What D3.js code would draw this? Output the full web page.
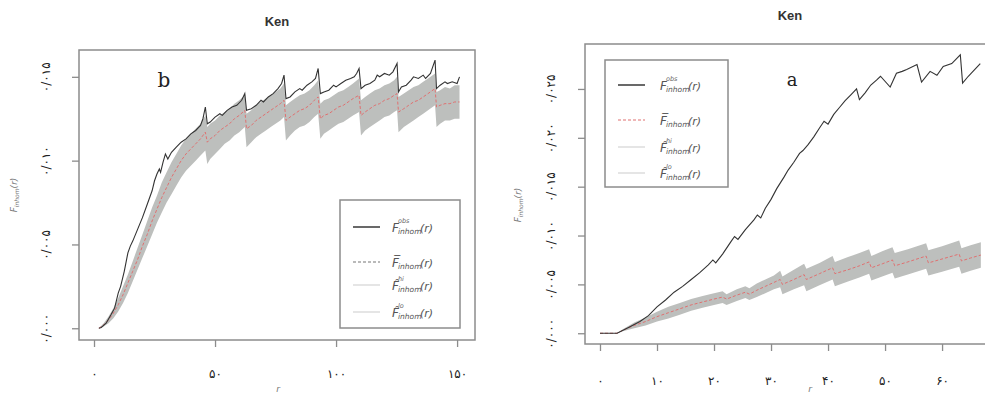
<!DOCTYPE html>
<html>
<head>
<meta charset="utf-8">
<script src="https://cdn.jsdelivr.net/npm/d3@7"></script>
<style>
body { margin: 0; background: #fff; }
svg { display: block; font-family: "DejaVu Sans", sans-serif; }
</style>
</head>
<body>
<script>
// ---- data ----

// panel b : observed curve [r, F]
var leftObs = [[2,0],[3,0.00005],[5,0.0003],[7,0.0008],[8.5,0.0012],[10,0.0021],[11,0.0025],[12.5,0.0034],[14,0.0045],[15,0.0049],
  [16,0.0052],[18,0.0059],[20,0.0066],[22,0.0074],[24,0.0082],[25,0.0088],[26,0.0092],[27,0.0095],[27.5,0.0093],[28.5,0.0099],
  [29.5,0.0104],[30.5,0.0101],[32,0.0105],[34,0.0108],[36,0.0111],[38,0.0113],[40,0.0116],[42,0.0118],[44,0.0121],[45,0.0125],
  [46,0.0132],[46.8,0.0122],[48,0.0123],[50,0.0126],[52,0.0128],[53,0.0127],[55,0.0130],[57,0.0132],[59,0.0133],[61,0.0136],
  [62.3,0.0140],[63,0.0130],[65,0.0131],[67,0.0133],[69,0.0136],[70,0.0135],[72,0.0138],[74,0.0140],[76,0.0143],[77.5,0.0146],
  [78.5,0.0151],[79.3,0.0137],[81,0.0138],[83,0.0141],[85,0.0143],[86,0.0142],[88,0.0145],[90,0.0147],[91.5,0.0149],[92.6,0.0155],
  [93.5,0.0140],[95,0.0141],[97,0.0142],[99,0.0145],[100,0.0144],[102,0.0146],[104,0.0148],[106,0.0149],[107.5,0.0150],[108.5,0.0152],
  [109.5,0.0155],[110.3,0.0143],[112,0.0145],[114,0.0146],[116,0.0148],[117,0.0151],[118,0.0150],[120,0.0152],[122,0.0151],[123.5,0.0153],
  [125.2,0.0158],[125.8,0.0141],[127,0.0144],[129,0.0145],[131,0.0148],[132,0.0150],[134,0.0149],[136,0.0151],[137,0.0149],[139,0.0152],
  [140.9,0.0160],[141.5,0.0143],[143,0.0145],[145,0.0147],[146,0.0146],[148,0.0147],[150,0.0146],[151,0.0150]];

// panel b : simulation envelope [r, mean, lo, hi]
var leftEnv = [[2,0,0,0],[4,0.0002,0.0001,0.0003],[6,0.0005,0.0003,0.0007],[8,0.0009,0.0006,0.0012],[10,0.0014,0.0010,0.0018],
  [12,0.0020,0.0015,0.0025],[14,0.0027,0.0021,0.0032],[16,0.0034,0.0028,0.0040],[18,0.0041,0.0035,0.0048],[20,0.0049,0.0042,0.0056],
  [22,0.0056,0.0049,0.0064],[24,0.0064,0.0056,0.0072],[26,0.0071,0.0063,0.0079],[28,0.0078,0.0069,0.0087],[30,0.0084,0.0075,0.0093],
  [32,0.0090,0.0080,0.0099],[34,0.0095,0.0085,0.0104],[36,0.0100,0.0090,0.0109],[38,0.0104,0.0094,0.0113],[40,0.0107,0.0097,0.0116],
  [42,0.0110,0.0100,0.0119],[44,0.0113,0.0103,0.0122],[46,0.0117,0.0106,0.0127],[46.8,0.0111,0.0098,0.0120],[48,0.0113,0.0101,0.0122],
  [50,0.0115,0.0104,0.0124],[52,0.0118,0.0107,0.0127],[54,0.0120,0.0110,0.0129],[56,0.0122,0.0112,0.0131],[58,0.0125,0.0115,0.0134],
  [60,0.0127,0.0117,0.0136],[62.3,0.0130,0.0120,0.0139],[63,0.0119,0.0108,0.0128],[65,0.0121,0.0111,0.0130],[67,0.0124,0.0114,0.0133],
  [69,0.0126,0.0116,0.0135],[71,0.0128,0.0118,0.0137],[73,0.0130,0.0120,0.0139],[75,0.0132,0.0122,0.0141],[77,0.0134,0.0124,0.0143],
  [78.5,0.0136,0.0126,0.0146],[79.3,0.0124,0.0112,0.0133],[81,0.0126,0.0115,0.0135],[83,0.0128,0.0118,0.0137],[85,0.0130,0.0120,0.0139],
  [87,0.0131,0.0121,0.0140],[89,0.0133,0.0123,0.0142],[91,0.0136,0.0126,0.0145],[92.6,0.0138,0.0128,0.0148],[93.5,0.0125,0.0113,0.0134],
  [95,0.0127,0.0116,0.0136],[97,0.0128,0.0118,0.0137],[99,0.0130,0.0120,0.0139],[101,0.0132,0.0122,0.0141],[103,0.0133,0.0123,0.0142],
  [105,0.0135,0.0125,0.0144],[107,0.0137,0.0127,0.0146],[109.5,0.0139,0.0129,0.0149],[110.3,0.0127,0.0115,0.0136],[112,0.0129,0.0118,0.0138],
  [114,0.0131,0.0120,0.0140],[116,0.0133,0.0122,0.0142],[118,0.0134,0.0124,0.0143],[120,0.0136,0.0126,0.0145],[122,0.0137,0.0127,0.0146],
  [124,0.0139,0.0129,0.0148],[125.2,0.0140,0.0130,0.0150],[125.8,0.0129,0.0117,0.0138],[128,0.0131,0.0120,0.0140],[130,0.0133,0.0122,0.0142],
  [132,0.0135,0.0124,0.0144],[134,0.0136,0.0126,0.0145],[136,0.0138,0.0128,0.0147],[138,0.0140,0.0130,0.0149],[140.9,0.0143,0.0133,0.0152],
  [141.5,0.0132,0.0120,0.0141],[143,0.0133,0.0122,0.0142],[145,0.0134,0.0124,0.0144],[147,0.0134,0.0124,0.0143],[149,0.0135,0.0125,0.0145],
  [151,0.0135,0.0125,0.0145]];

// panel a : observed curve [r, F]
var rightObs = [[0,0],[3,0],[5,0.0006],[7,0.0012],[8.5,0.0018],[10,0.0027],[11.5,0.0034],[13,0.0042],[14.5,0.0048],[16,0.0055],
  [17.5,0.0062],[19,0.0070],[19.8,0.0075],[20.3,0.0072],[21.5,0.0081],[23,0.0094],[23.6,0.0099],[24.2,0.0096],[25.5,0.0106],[27,0.0116],
  [27.6,0.0121],[28.2,0.0118],[29,0.0128],[30,0.0137],[31,0.0148],[32.3,0.0160],[33,0.0167],[34,0.0175],[35,0.0184],[35.6,0.0187],
  [36.5,0.0193],[37.5,0.0201],[38.5,0.0210],[39.3,0.0217],[40,0.0214],[41,0.0224],[42,0.0231],[43,0.0238],[44,0.0244],[45,0.0250],
  [45.5,0.0239],[46.5,0.0246],[47.5,0.0254],[48.5,0.0259],[49.2,0.0263],[50.9,0.0252],[52,0.0266],[53,0.0268],[53.8,0.0270],[55.6,0.0275],
  [56.4,0.0257],[57.9,0.0268],[59.1,0.0264],[60.2,0.0273],[61.7,0.0276],[63.2,0.0285],[63.6,0.0256],[64.6,0.0263],[66.7,0.0276]];

// panel a : simulation envelope [r, mean, lo, hi]
var rightEnv = [[0,0,0,0],[3,0,0,0],[4,0.0003,0.0002,0.0004],[6,0.0008,0.0005,0.0011],[8,0.0012,0.0008,0.0016],[10,0.0017,0.0012,0.0022],
  [12,0.0021,0.0015,0.0027],[14,0.0025,0.0019,0.0031],[16,0.0029,0.0023,0.0035],[18,0.0032,0.0026,0.0038],[20,0.0035,0.0029,0.0041],
  [21.5,0.0037,0.0031,0.0043],[22.2,0.0035,0.0029,0.0040],[24,0.0039,0.0033,0.0045],[25.5,0.0042,0.0036,0.0048],[26.2,0.0040,0.0034,0.0046],
  [27.5,0.0044,0.0037,0.0051],[29,0.0048,0.0041,0.0055],[30.5,0.0052,0.0045,0.0059],[31.6,0.0055,0.0047,0.0064],[32,0.0050,0.0040,0.0058],
  [34,0.0055,0.0045,0.0065],[35.8,0.0060,0.0049,0.0071],[36.2,0.0055,0.0043,0.0066],[38.5,0.0061,0.0049,0.0072],[40.8,0.0067,0.0055,0.0079],
  [41.2,0.0061,0.0048,0.0073],[43.5,0.0065,0.0053,0.0078],[45.5,0.0069,0.0057,0.0082],[47.2,0.0073,0.0061,0.0086],[47.6,0.0067,0.0054,0.0079],
  [49.5,0.0071,0.0058,0.0084],[51.3,0.0075,0.0062,0.0088],[51.7,0.0069,0.0056,0.0082],[54,0.0073,0.0060,0.0086],[57.2,0.0079,0.0066,0.0092],
  [57.6,0.0072,0.0059,0.0085],[60,0.0076,0.0063,0.0089],[63,0.0081,0.0068,0.0095],[63.4,0.0074,0.0061,0.0087],[65,0.0077,0.0064,0.0090],
  [66.8,0.0080,0.0067,0.0093]];

// tick values and their (Persian) labels
var leftXTicks = [0, 50, 100, 150];
var leftXLabels = ["۰", "۵۰", "۱۰۰", "۱۵۰"];
var leftYTicks = [0, 0.005, 0.010, 0.015];
var leftYLabels = ["۰/۰۰۰", "۰/۰۰۵", "۰/۰۱۰", "۰/۰۱۵"];
var rightXTicks = [0, 10, 20, 30, 40, 50, 60];
var rightXLabels = ["۰", "۱۰", "۲۰", "۳۰", "۴۰", "۵۰", "۶۰"];
var rightYTicks = [0, 0.005, 0.010, 0.015, 0.020, 0.025];
var rightYLabels = ["۰/۰۰۰", "۰/۰۰۵", "۰/۰۱۰", "۰/۰۱۵", "۰/۰۲۰", "۰/۰۲۵"];

// legend entries
var legendSup = ["obs", "", "hi", "lo"];
var legendAccent = ["", "\u0305", "\u0302", "\u0302"];

//Canvas
var svg = d3.select("body")
            .append("svg")
            .attr("width", 985)
            .attr("height", 396);

svg.append("rect").attr("width", 985).attr("height", 396).attr("fill", "#fff");

function drawPanel(p) {
  var g = svg.append("g");

  var x = d3.scaleLinear().domain(p.xDomain).range([p.left, p.right]);
  var y = d3.scaleLinear().domain(p.yDomain).range([p.bottom, p.top]);

  //Envelope band
  var band = d3.area()
               .x(function(d) { return x(d[0]); })
               .y0(function(d) { return y(d[2]); })
               .y1(function(d) { return y(d[3]); });
  g.append("path")
   .datum(p.env)
   .attr("d", band)
   .attr("fill", "#bdbfbd");

  //Mean of simulations
  var meanLine = d3.line()
                   .x(function(d) { return x(d[0]); })
                   .y(function(d) { return y(d[1]); });
  g.append("path")
   .datum(p.env)
   .attr("d", meanLine)
   .attr("fill", "none")
   .attr("stroke", "#e07070")
   .attr("stroke-width", 1)
   .attr("stroke-dasharray", "3,2");

  //Observed
  var obsLine = d3.line()
                  .x(function(d) { return x(d[0]); })
                  .y(function(d) { return y(d[1]); });
  g.append("path")
   .datum(p.obs)
   .attr("d", obsLine)
   .attr("fill", "none")
   .attr("stroke", "#333")
   .attr("stroke-width", 1.1);

  //Box
  g.append("rect")
   .attr("x", p.left)
   .attr("y", p.top)
   .attr("width", p.right - p.left)
   .attr("height", p.bottom - p.top)
   .attr("fill", "none")
   .attr("stroke", "#8c8c8c")
   .attr("stroke-width", 1.5);

  //X axis
  var xAxis = d3.axisBottom(x)
                .tickValues(p.xTicks)
                .tickSize(7)
                .tickPadding(p.xPad)
                .tickFormat(function(d, i) { return p.xLabels[i]; });
  var gx = g.append("g")
            .attr("transform", "translate(0," + p.bottom + ")")
            .call(xAxis);
  gx.select(".domain").remove();
  gx.selectAll("line").attr("stroke", "#8c8c8c").attr("stroke-width", 1.3);
  gx.selectAll("text")
    .attr("fill", "#222")
    .style("font-size", "12px")
    .style("font-family", "DejaVu Sans");

  //Y axis, labels turned like R does
  var yAxis = d3.axisLeft(y)
                .tickValues(p.yTicks)
                .tickSize(7)
                .tickFormat(function(d, i) { return p.yLabels[i]; });
  var gy = g.append("g")
            .attr("transform", "translate(" + p.left + ",0)")
            .call(yAxis);
  gy.select(".domain").remove();
  gy.selectAll("line").attr("stroke", "#8c8c8c").attr("stroke-width", 1.3);
  gy.selectAll("text")
    .attr("transform", "rotate(-90)")
    .attr("x", 0)
    .attr("y", -p.yPad)
    .attr("dy", 0)
    .attr("text-anchor", "middle")
    .attr("fill", "#222")
    .style("font-size", "12px")
    .style("font-family", "DejaVu Sans");

  //Title
  g.append("text")
   .attr("x", p.titleX)
   .attr("y", p.titleY)
   .attr("text-anchor", "middle")
   .style("font-family", "Liberation Sans, Arial, sans-serif")
   .style("font-weight", "bold")
   .style("font-size", "13px")
   .attr("fill", "#333")
   .text("Ken");

  //Panel letter
  g.append("text")
   .attr("x", p.letterX)
   .attr("y", p.letterY)
   .attr("text-anchor", "middle")
   .style("font-family", "DejaVu Serif, serif")
   .style("font-size", p.letterSize + "px")
   .attr("fill", "#222")
   .text(p.letter);

  //Axis titles
  var yl = g.append("text")
            .attr("transform", "translate(" + p.yLabX + "," + p.yLabY + ") rotate(-90)")
            .attr("text-anchor", "middle")
            .attr("fill", "#777")
            .style("font-size", "9px")
            .style("font-style", "italic");
  yl.append("tspan").text("F");
  yl.append("tspan").attr("dy", 2).style("font-size", "6px").text("inhom");
  yl.append("tspan").attr("dy", -2).text("(r)");

  g.append("text")
   .attr("x", p.xLabX)
   .attr("y", p.xLabY)
   .attr("text-anchor", "middle")
   .attr("fill", "#777")
   .style("font-size", "9px")
   .style("font-style", "italic")
   .text("r");

  //Legend
  var lg = g.append("g");
  lg.append("rect")
    .attr("x", p.legX)
    .attr("y", p.legY)
    .attr("width", p.legW)
    .attr("height", p.legH)
    .attr("fill", "#fff")
    .attr("stroke", "#8c8c8c")
    .attr("stroke-width", 1.5);

  var legStroke = ["#444", p.meanKey, "#d4d4d4", "#d4d4d4"];
  var legDash = [null, "3,2", null, null];

  p.legRows.forEach(function(cy, i) {
    lg.append("line")
      .attr("x1", p.legX + p.lineX0)
      .attr("x2", p.legX + p.lineX0 + 27)
      .attr("y1", cy)
      .attr("y2", cy)
      .attr("stroke", legStroke[i])
      .attr("stroke-width", i == 0 ? 1.6 : 1.2)
      .attr("stroke-dasharray", legDash[i]);

    var tx = p.legX + p.textX0;
    var base = cy + 5;
    lg.append("text")
      .attr("x", tx).attr("y", base)
      .attr("fill", "#555")
      .style("font-size", "12px")
      .style("font-style", "italic")
      .text("F" + legendAccent[i]);
    if (legendSup[i] != "") {
      lg.append("text")
        .attr("x", tx + 6).attr("y", base - 9)
        .attr("fill", "#666")
        .style("font-size", "6.5px")
        .style("font-style", "italic")
        .text(legendSup[i]);
    }
    lg.append("text")
      .attr("x", tx + 6).attr("y", base + 2)
      .attr("fill", "#555")
      .style("font-size", "7.5px")
      .style("font-style", "italic")
      .text("inhom");
    lg.append("text")
      .attr("x", tx + 28).attr("y", base)
      .attr("fill", "#555")
      .style("font-size", "11px")
      .style("font-style", "italic")
      .text("(r)");
  });
}

drawPanel({
  left: 79, right: 475, top: 50, bottom: 340,
  xDomain: [-6.2, 157.4], yDomain: [-0.0007, 0.0166],
  obs: leftObs, env: leftEnv,
  xTicks: leftXTicks, xLabels: leftXLabels, xPad: 22,
  yTicks: leftYTicks, yLabels: leftYLabels, yPad: 29,
  titleX: 277, titleY: 26,
  letter: "b", letterX: 164, letterY: 87, letterSize: 20,
  yLabX: 17, yLabY: 195, xLabX: 278, xLabY: 392,
  legX: 340, legY: 200, legW: 120, legH: 128,
  lineX0: 13, textX0: 52, legRows: [227, 262, 285, 312],
  meanKey: "#777"
});

drawPanel({
  left: 585, right: 1035, top: 44, bottom: 344,
  xDomain: [-2.63, 76.3], yDomain: [-0.0011, 0.0296],
  obs: rightObs, env: rightEnv,
  xTicks: rightXTicks, xLabels: rightXLabels, xPad: 25,
  yTicks: rightYTicks, yLabels: rightYLabels, yPad: 30,
  titleX: 790, titleY: 20,
  letter: "a", letterX: 792, letterY: 86, letterSize: 18,
  yLabX: 521, yLabY: 205, xLabX: 810, xLabY: 392,
  legX: 605, legY: 60, legW: 123, legH: 127,
  lineX0: 13, textX0: 55, legRows: [85, 120, 147, 173],
  meanKey: "#e07070"
});
</script>
</body>
</html>
